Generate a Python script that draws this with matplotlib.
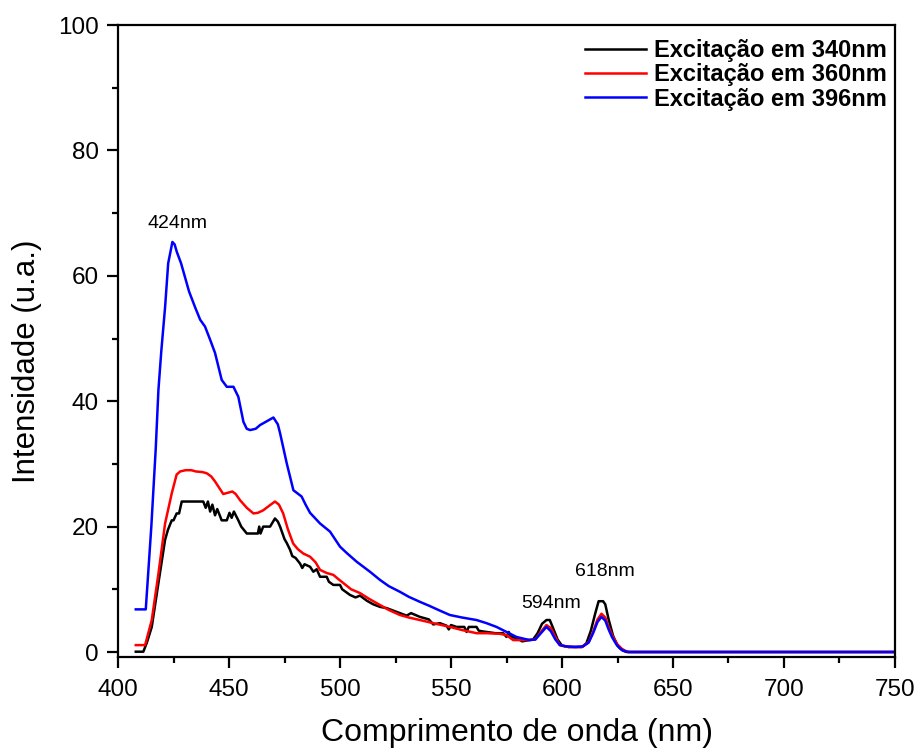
import matplotlib
matplotlib.use('Agg')
import matplotlib.pyplot as plt

plt.rcParams['font.family'] = ['Liberation Sans', 'DejaVu Sans']

# espectros de emissão (comprimento de onda em nm, intensidade em u.a.)
wl_340 = [408, 411.4, 413, 415.2, 418.2, 421.2, 422.5, 424.2, 425, 426.4, 427.5, 428.7,
          438.4, 439.5, 440.5, 441.5, 442.5, 443.7, 444.7, 446.7, 449, 450.2, 451.2, 452.2,
          454.2, 455.5, 458, 463, 463.6, 464.2, 465.4, 468.5, 470.7, 472, 473, 475, 476,
          477.5, 478.5, 480, 482, 483, 484, 486.5, 488, 489.5, 491, 494, 495, 497, 500, 501,
          504.5, 507, 509, 512, 515, 518, 521, 524, 527, 530, 532, 536, 540, 542, 545, 548,
          549, 550, 552.5, 556, 557, 558, 561.5, 562.5, 564, 570, 573.5, 575, 576, 577, 580,
          582, 587, 589, 591, 593, 594.5, 596, 598, 600, 603, 609, 611, 613, 615, 616.5,
          618.5, 619.5, 621, 623, 625, 627, 629, 750]
int_340 = [0.05, 0.05, 1.5, 4.0, 11.0, 17.9, 19.5, 21.0, 21.0, 22.1, 22.1, 24.0,
           24.0, 23.0, 24.0, 22.4, 23.5, 21.8, 22.8, 21.0, 21.0, 22.2, 21.4, 22.4,
           21.0, 20.0, 18.9, 18.9, 20.0, 18.9, 20.0, 20.0, 21.3, 20.8, 20.0, 18.0, 17.4,
           16.3, 15.3, 15.0, 14.1, 13.4, 14.0, 13.6, 12.8, 13.2, 12.0, 12.0, 11.2, 10.7, 10.7, 10.0,
           9.1, 8.7, 9.0, 8.2, 7.6, 7.2, 7.0, 6.6, 6.2, 5.8, 6.2, 5.6, 5.2, 4.4, 4.6, 4.2,
           3.6, 4.3, 4.0, 4.0, 3.2, 4.0, 4.0, 3.4, 3.3, 3.0, 3.0, 2.4, 3.2, 2.4, 2.2,
           1.7, 2.0, 3.0, 4.5, 5.1, 5.1, 3.8, 2.0, 1.0, 0.8, 0.8, 1.4, 3.4, 6.2, 8.1,
           8.1, 7.6, 5.2, 2.6, 1.0, 0.3, 0.0, 0.0]

wl_360 = [408, 412.2, 415.2, 418.2, 421.2, 424.2, 426.4, 428, 430.5, 433, 435, 438, 440,
          442, 443.7, 447.4, 449.5, 451.5, 453, 455, 458, 461, 463, 465.4, 468, 470.7,
          472.5, 474.4, 476.5, 478.9, 481, 483.5, 486.5, 489, 491, 494, 497, 499, 501.5,
          505, 509, 513, 518, 522, 527, 531, 536, 542, 549.5, 555, 561.5, 566, 572, 575,
          578, 584, 588, 590, 593, 595, 597, 599, 603, 609, 612, 614, 616, 617.8, 619.5,
          621, 623, 625, 627, 629, 630, 750]
int_360 = [1.1, 1.1, 5.1, 12.5, 20.5, 25.3, 28.3, 28.8, 29.0, 29.0, 28.8, 28.7, 28.5,
           28.0, 27.2, 25.2, 25.4, 25.6, 25.2, 24.2, 23.0, 22.1, 22.2, 22.6, 23.3, 24.0,
           23.5, 22.1, 19.6, 17.3, 16.4, 15.7, 15.2, 14.3, 13.1, 12.6, 12.3, 11.7, 11.0,
           10.0, 9.4, 8.5, 7.5, 6.7, 5.9, 5.5, 5.1, 4.6, 4.0, 3.5, 3.0, 3.0, 2.9, 2.7,
           1.9, 1.9, 2.0, 3.0, 4.3, 3.8, 2.4, 1.1, 0.8, 0.8, 1.6, 3.2, 5.2, 6.1, 5.5,
           4.0, 2.4, 1.2, 0.5, 0.1, 0.0, 0.0]

wl_396 = [408, 412.5, 415, 417, 418.2, 419.5, 421.2, 422.6, 424.5, 425.5, 426.5, 428.4,
          430, 432, 434.7, 437, 439.2, 441.5, 443.7, 446.7, 449, 452, 454.2, 456.5, 458,
          459.5, 462, 464, 467, 470, 472, 473, 476, 479, 482.7, 484.5, 486.5, 491, 495.5,
          500, 503, 507.5, 513.5, 518, 522, 527, 531, 536, 540, 545, 549.5, 555, 561.5,
          566, 570.5, 575, 579.5, 583, 585.5, 588, 590, 593, 595, 597, 599, 602, 606,
          609.5, 612, 614, 616, 617.8, 619.5, 621, 622.5, 624.5, 626, 627.7, 630, 750]
int_396 = [6.8, 6.8, 20.0, 32.5, 41.8, 48.0, 55.0, 62.0, 65.4, 65.0, 63.8, 62.0,
           60.0, 57.5, 55.0, 53.0, 51.9, 49.8, 47.7, 43.4, 42.3, 42.3, 40.7, 36.7, 35.6,
           35.4, 35.6, 36.2, 36.8, 37.4, 36.3, 34.9, 30.1, 25.8, 24.8, 23.5, 22.2, 20.5, 19.2,
           16.8, 15.8, 14.4, 12.8, 11.5, 10.5, 9.6, 8.8, 8.0, 7.4, 6.6, 5.9, 5.5, 5.1,
           4.6, 4.0, 3.2, 2.4, 2.1, 1.9, 2.0, 2.8, 4.0, 3.3, 2.0, 1.1, 0.9, 0.8,
           0.9, 1.5, 3.0, 4.8, 5.6, 5.0, 3.6, 2.4, 1.2, 0.6, 0.2, 0.0, 0.0]

labels = ['Excitação em 340nm', 'Excitação em 360nm', 'Excitação em 396nm']
picos = [(426.6, 68.3, '424nm'), (595.0, 7.8, '594nm'), (619.4, 12.8, '618nm')]

fig = plt.figure(figsize=(9.17, 7.49), dpi=100)
ax = fig.add_axes([0.1287, 0.1228, 0.8473, 0.8438])

ax.plot(wl_340, int_340, color='black', lw=1.8, label=labels[0])
ax.plot(wl_360, int_360, color='red', lw=1.8, label=labels[1])
ax.plot(wl_396, int_396, color='blue', lw=1.8, label=labels[2])

for x, y, txt in picos:
    ax.text(x, y, txt, ha='center', va='center', fontsize=14)

ax.set_xlim(400, 750)
ax.set_ylim(-0.8, 100)
ax.set_xticks(range(400, 751, 50))
ax.set_xticks(range(425, 751, 50), minor=True)
ax.set_yticks(range(0, 101, 20))
ax.set_yticks(range(10, 101, 20), minor=True)

for s in ax.spines.values():
    s.set_linewidth(1.6)
ax.tick_params(which='both', direction='out', width=1.6, top=False, right=False)
ax.tick_params(which='major', length=8, labelsize=17.5)
ax.tick_params(axis='x', which='major', pad=8)
ax.tick_params(axis='y', which='major', pad=6)
ax.tick_params(which='minor', length=4.5)

ax.set_xlabel('Comprimento de onda (nm)', fontsize=23)
ax.set_ylabel('Intensidade (u.a.)', fontsize=22.5)
ax.xaxis.set_label_coords(0.514, -0.096)
ax.yaxis.set_label_coords(-0.098, 0.468)

leg = ax.legend(loc='upper right', frameon=False, prop={'weight': 'bold', 'size': 17},
                handlelength=2.6, handletextpad=0.35, labelspacing=0.05,
                borderaxespad=0.2, bbox_to_anchor=(1.008, 1.0))

fig.savefig('out.png', dpi=100)
